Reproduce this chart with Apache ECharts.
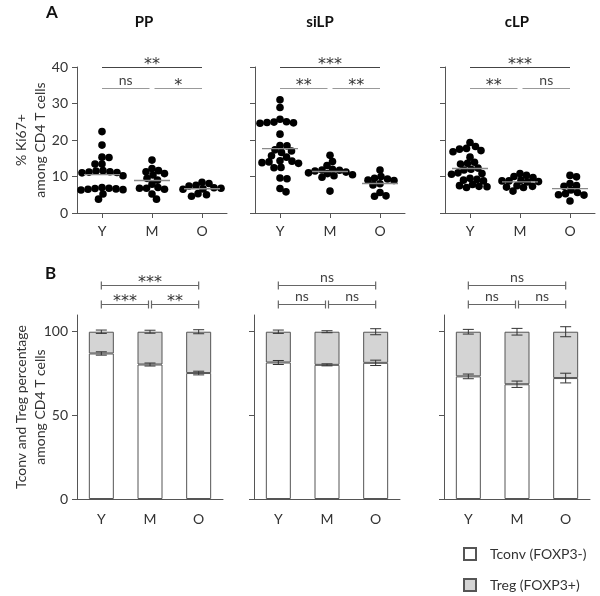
<!DOCTYPE html>
<html><head><meta charset="utf-8">
<script src="https://cdn.jsdelivr.net/npm/echarts@6/dist/echarts.min.js"></script>
<style>html,body{margin:0;padding:0;background:#fff}#c{width:600px;height:596px}</style>
</head><body><div id="c"></div>
<script>
// ---------- DATA ----------
const groups = ['Y', 'M', 'O'];
const panels = ['PP', 'siLP', 'cLP'];

// Panel A: % Ki67+ among CD4 T cells (one value per mouse)
const ki67PP_Y = [22.3, 18.6, 15.3, 15.2, 13.4, 13.4, 11.6, 11.5, 11.3, 11.2, 11.1, 11.0, 10.2, 7.0, 6.8, 6.7, 6.6, 6.5, 6.4, 6.3, 5.2, 3.8];
const ki67PP_M = [14.5, 12.2, 11.6, 11.3, 10.8, 10.4, 9.5, 9.0, 7.9, 7.0, 6.8, 6.8, 6.5, 5.2, 3.8];
const ki67PP_O = [8.4, 8.1, 7.6, 7.4, 6.9, 6.8, 6.6, 6.5, 5.3, 5.0, 4.6];
const ki67siLP_Y = [31.0, 28.9, 25.7, 25.0, 24.8, 24.7, 24.9, 24.6, 21.6, 18.5, 18.4, 17.3, 17.0, 16.6, 15.7, 15.3, 14.3, 14.0, 13.8, 14.2, 13.6, 12.5, 12.4, 9.6, 9.4, 6.7, 5.8];
const ki67siLP_M = [15.8, 14.1, 13.0, 12.0, 11.8, 11.7, 11.5, 11.2, 11.0, 10.8, 10.5, 10.2, 9.8, 6.0];
const ki67siLP_O = [11.8, 10.0, 9.5, 9.3, 9.0, 8.9, 8.0, 7.7, 5.6, 4.7, 4.6];
const ki67cLP_Y = [19.3, 18.2, 17.7, 17.5, 17.1, 16.8, 15.3, 13.9, 13.6, 13.4, 12.3, 12.0, 11.8, 11.0, 10.8, 10.6, 9.5, 9.2, 9.0, 8.8, 7.8, 7.5, 7.3, 7.2, 7.0];
const ki67cLP_M = [10.8, 10.3, 10.0, 9.7, 9.0, 8.8, 8.8, 8.6, 8.5, 7.5, 7.3, 7.1, 7.0, 6.0];
const ki67cLP_O = [10.3, 9.9, 8.1, 7.5, 7.3, 6.3, 5.6, 5.3, 5.0, 4.9, 3.3];
const ki67Ticks = [0, 10, 20, 30, 40];

// Panel B: Tconv / Treg percentage among CD4 T cells (mean, error)
const tconvPP = [87.0, 80.4, 75.3];
const tconvPPErr = [1.0, 0.9, 1.1];
const tregPP = [13.0, 19.6, 24.7];
const tregPPErr = [1.0, 0.9, 1.2];
const tconvSiLP = [81.6, 80.2, 81.4];
const tconvSiLPErr = [1.2, 0.6, 1.6];
const tregSiLP = [18.4, 19.8, 18.6];
const tregSiLPErr = [1.0, 0.6, 1.8];
const tconvCLP = [73.3, 68.6, 72.3];
const tconvCLPErr = [1.4, 1.9, 2.9];
const tregCLP = [26.7, 31.4, 27.7];
const tregCLPErr = [1.4, 2.0, 3.0];
const pctTicks = [0, 50, 100];

// Significance: [fromGroup, toGroup, row (0 = upper, 1 = lower), label]
const sigA_PP = [[0, 2, 0, '**'], [0, 1, 1, 'ns'], [1, 2, 1, '*']];
const sigA_siLP = [[0, 2, 0, '***'], [0, 1, 1, '**'], [1, 2, 1, '**']];
const sigA_cLP = [[0, 2, 0, '***'], [0, 1, 1, '**'], [1, 2, 1, 'ns']];
const sigB_PP = [[0, 2, 0, '***'], [0, 1, 1, '***'], [1, 2, 1, '**']];
const sigB_siLP = [[0, 2, 0, 'ns'], [0, 1, 1, 'ns'], [1, 2, 1, 'ns']];
const sigB_cLP = [[0, 2, 0, 'ns'], [0, 1, 1, 'ns'], [1, 2, 1, 'ns']];

const legendNames = ['Tconv (FOXP3-)', 'Treg (FOXP3+)'];

// ---------- BUILD ----------
const FONT = 'Lato, "Open Sans", sans-serif';
const STARFONT = '"DejaVu Sans", sans-serif';
const ki67 = [[ki67PP_Y, ki67PP_M, ki67PP_O], [ki67siLP_Y, ki67siLP_M, ki67siLP_O], [ki67cLP_Y, ki67cLP_M, ki67cLP_O]];
const tconv = [tconvPP, tconvSiLP, tconvCLP];
const tconvErr = [tconvPPErr, tconvSiLPErr, tconvCLPErr];
const treg = [tregPP, tregSiLP, tregCLP];
const tregErr = [tregPPErr, tregSiLPErr, tregCLPErr];
const sigA = [sigA_PP, sigA_siLP, sigA_cLP];
const sigB = [sigB_PP, sigB_siLP, sigB_cLP];
const mean = a => a.reduce((s, v) => s + v, 0) / a.length;

const AXC = '#555';
const TXT = '#333';
const gridA = [77, 255, 445];
const gridB = [77, 254, 444];
const rowValA = [40, 34.2];
const rowValB = [127.9, 116.4];

const chart = echarts.init(document.getElementById('c'), null, {renderer: 'canvas'});

const grid = [], xAxis = [], yAxis = [], series = [];
for (let p = 0; p < 3; p++) grid.push({left: gridA[p], top: 67, width: 150, height: 146});
for (let p = 0; p < 3; p++) grid.push({left: gridB[p], top: 315, width: 146, height: 184});
for (let i = 0; i < 6; i++) {
  const isA = i < 3;
  xAxis.push({
    type: 'category', gridIndex: i, data: groups, boundaryGap: true,
    axisLine: {lineStyle: {color: AXC, width: 1}},
    axisTick: {show: isA, alignWithLabel: true, length: 5, lineStyle: {color: AXC}},
    axisLabel: {color: TXT, fontSize: 14, fontFamily: FONT, margin: isA ? 11 : 13},
    splitLine: {show: false}
  });
  yAxis.push({
    type: 'value', gridIndex: i, min: 0, max: isA ? 40 : 110,
    interval: isA ? 10 : 50,
    axisLine: {show: true, lineStyle: {color: AXC, width: 1}},
    axisTick: {show: true, length: 5, lineStyle: {color: AXC}, customValues: isA ? ki67Ticks : pctTicks},
    axisLabel: {show: i === 0 || i === 3, color: TXT, fontSize: 14, fontFamily: FONT, margin: 9, customValues: isA ? ki67Ticks : pctTicks},
    splitLine: {show: false},
    name: i === 0 ? '% Ki67+\namong CD4 T cells' : (i === 3 ? 'Tconv and Treg percentage\namong CD4 T cells' : ''),
    nameLocation: 'middle', nameRotate: 90, nameGap: 27, nameMoveOverlap: false,
    nameTextStyle: {color: TXT, fontSize: 14, fontFamily: FONT, lineHeight: 19}
  });
}

function bracketRenderer(sigList, rowVals, isB) {
  return function (params, api) {
    const s = sigList[params.dataIndex];
    const yv = rowVals[s[2]];
    const p1 = api.coord([s[0], yv]);
    const p2 = api.coord([s[1], yv]);
    let x1 = p1[0], x2 = p2[0];
    const y = Math.round(p1[1]) + 0.5;
    const children = [];
    const gap = isB ? 1.5 : 2.5;
    if (s[2] === 1) {
      if (s[0] === 1) x1 += gap;
      if (s[1] === 1) x2 -= gap;
    }
    const col = isB ? '#666' : (s[2] === 0 ? '#444' : '#999');
    children.push({type: 'line', shape: {x1: x1, y1: y, x2: x2, y2: y}, style: {stroke: col, lineWidth: 1.2}});
    if (isB) {
      children.push({type: 'line', shape: {x1: x1, y1: y - 4, x2: x1, y2: y + 4}, style: {stroke: col, lineWidth: 1.2}});
      children.push({type: 'line', shape: {x1: x2, y1: y - 4, x2: x2, y2: y + 4}, style: {stroke: col, lineWidth: 1.2}});
    }
    const isStar = s[3].indexOf('*') >= 0;
    children.push({type: 'text', style: {
      text: s[3],
      x: (x1 + x2) / 2, y: isStar ? y - 2.5 : y - 8,
      align: 'center', verticalAlign: 'middle',
      font: isStar ? '16px ' + STARFONT : '14px ' + FONT, fill: isStar ? '#333' : '#444'
    }});
    return {type: 'group', children: children};
  };
}

function errRenderer(params, api) {
  const c = api.value(0);
  const pl = api.coord([c, api.value(1)]);
  const ph = api.coord([c, api.value(2)]);
  const w = 5.5;
  const st = {stroke: '#333', lineWidth: 1};
  return {type: 'group', children: [
    {type: 'line', shape: {x1: pl[0], y1: pl[1], x2: ph[0], y2: ph[1]}, style: st},
    {type: 'line', shape: {x1: pl[0] - w, y1: pl[1], x2: pl[0] + w, y2: pl[1]}, style: st},
    {type: 'line', shape: {x1: ph[0] - w, y1: ph[1], x2: ph[0] + w, y2: ph[1]}, style: st}
  ]};
}

// Panel A series
for (let p = 0; p < 3; p++) {
  const pts = [];
  ki67[p].forEach((vals, g) => vals.forEach(v => pts.push({value: [g, v], symbolOffset: [0, 0]})));
  series.push({type: 'scatter', xAxisIndex: p, yAxisIndex: p, data: pts, symbol: 'circle', symbolSize: 7.6,
    itemStyle: {color: '#000', opacity: 1}, z: 2, silent: true});
  series.push({type: 'scatter', xAxisIndex: p, yAxisIndex: p,
    data: ki67[p].map((vals, g) => [g, mean(vals)]), symbol: 'rect', symbolSize: [36, 1.4],
    itemStyle: {color: '#8a8a8a', opacity: 1}, z: 3, silent: true});
  series.push({type: 'custom', xAxisIndex: p, yAxisIndex: p, clip: false, silent: true,
    data: sigA[p].map(s => [s[0], s[1], s[2]]), encode: {x: [0, 1]},
    renderItem: bracketRenderer(sigA[p], rowValA, false), z: 4});
}
// Panel B series
for (let p = 0; p < 3; p++) {
  const ax = p + 3;
  series.push({type: 'bar', name: legendNames[0], xAxisIndex: ax, yAxisIndex: ax, stack: 'b' + p,
    data: tconv[p], barWidth: 25, itemStyle: {color: '#ffffff', borderColor: '#555', borderWidth: 1}, silent: true});
  series.push({type: 'bar', name: legendNames[1], xAxisIndex: ax, yAxisIndex: ax, stack: 'b' + p,
    data: treg[p], barWidth: 25, itemStyle: {color: '#d4d4d4', borderColor: '#555', borderWidth: 1}, silent: true});
  const errs = [];
  for (let g = 0; g < 3; g++) {
    errs.push([g, tconv[p][g] - tconvErr[p][g], tconv[p][g] + tconvErr[p][g]]);
    const top = tconv[p][g] + treg[p][g];
    errs.push([g, top - tregErr[p][g], top + tregErr[p][g]]);
  }
  series.push({type: 'custom', xAxisIndex: ax, yAxisIndex: ax, clip: false, silent: true, data: errs,
    encode: {x: 0, y: [1, 2]}, renderItem: errRenderer, z: 5});
  series.push({type: 'custom', xAxisIndex: ax, yAxisIndex: ax, clip: false, silent: true,
    data: sigB[p].map(s => [s[0], s[1], s[2]]), encode: {x: [0, 1]},
    renderItem: bracketRenderer(sigB[p], rowValB, true), z: 4});
}

const graphic = [
  {type: 'text', left: 46, top: 4, style: {text: 'A', font: 'bold 17px ' + FONT, fill: '#111'}},
  {type: 'text', left: 45, top: 265, style: {text: 'B', font: 'bold 17px ' + FONT, fill: '#111'}}
];
const titleX = [144, 320, 517];
panels.forEach((t, p) => graphic.push({type: 'text', x: titleX[p], y: 22,
  style: {text: t, font: 'bold 15px ' + FONT, fill: '#111', align: 'center', verticalAlign: 'middle'}}));

chart.setOption({
  animation: false,
  backgroundColor: '#fff',
  grid: grid, xAxis: xAxis, yAxis: yAxis, series: series, graphic: graphic,
  legend: {data: legendNames, orient: 'vertical', left: 463, top: 547, padding: 0, height: 49,
    itemWidth: 12, itemHeight: 12, itemGap: 17,
    icon: 'rect', textStyle: {color: TXT, fontSize: 14, fontFamily: FONT, padding: [0, 0, 0, 9]}, selectedMode: false}
});

// beeswarm layout of dots (computed from the values through the chart's own y scale)
const D = 6.6;
const newSeries = chart.getOption().series.map(() => ({}));
for (let p = 0; p < 3; p++) {
  const pts = [];
  ki67[p].forEach((vals, g) => {
    const placed = [];
    const offs = new Array(vals.length);
    const order = vals.map((v, i) => i).sort((a, b) => vals[b] - vals[a]);
    order.forEach(i => {
      const py = chart.convertToPixel({yAxisIndex: p}, vals[i]);
      let chosen = 0;
      for (let k = 0; k < 400; k++) {
        const cand = (k % 2 === 1 ? 1 : -1) * Math.ceil(k / 2) * 0.5;
        let ok = true;
        for (const q of placed) {
          const dx = cand - q[0], dy = py - q[1];
          if (dx * dx + dy * dy < D * D) { ok = false; break; }
        }
        if (ok) { chosen = cand; break; }
      }
      placed.push([chosen, py]);
      offs[i] = chosen;
    });
    vals.forEach((v, i) => pts.push({value: [g, v], symbolOffset: [offs[i], 0]}));
  });
  newSeries[p * 3] = {data: pts};
}
chart.setOption({series: newSeries});
</script></body></html>
